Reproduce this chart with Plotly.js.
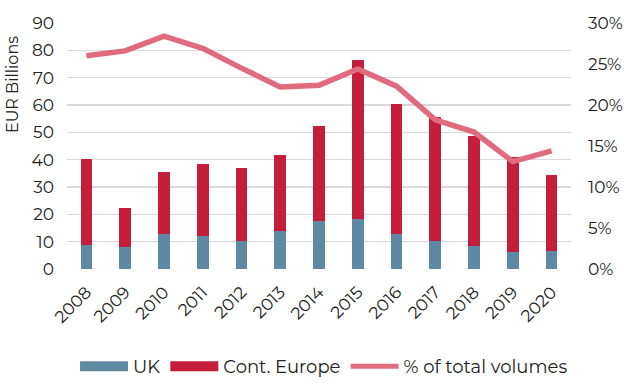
<!DOCTYPE html>
<html><head><meta charset="utf-8">
<script src="https://cdn.plot.ly/plotly-3.0.1.min.js"></script>
<style>body{margin:0;background:#fff}#c{width:640px;height:385px}</style>
</head><body><div id="c"></div>
<script>
const years = ['2008','2009','2010','2011','2012','2013','2014','2015','2016','2017','2018','2019','2020'];
const ukValues = [8.9, 7.9, 12.7, 12.0, 10.2, 13.8, 17.6, 18.3, 12.8, 10.1, 8.4, 6.2, 6.7];
const contEuropeValues = [31.3, 14.5, 22.9, 26.5, 26.8, 27.9, 34.8, 58.1, 47.5, 45.5, 40.4, 34.9, 27.6];
const pctTotalVolumes = [0.260, 0.266, 0.284, 0.269, 0.245, 0.222, 0.224, 0.244, 0.223, 0.182, 0.167, 0.131, 0.144];
const seriesNames = ['UK', 'Cont. Europe', '% of total volumes'];
const colors = ['#5f89a3', '#c41e3a', '#e06b7f'];

const font = {family: 'Montserrat, "Noto Sans", "DejaVu Sans", sans-serif', size: 17, color: '#222'};
const legendFont = {family: font.family, size: 18, color: '#222'};
const data = [
  {type: 'bar', name: seriesNames[0], x: years, y: ukValues, marker: {color: colors[0]}, showlegend: false},
  {type: 'bar', name: seriesNames[1], x: years, y: contEuropeValues, marker: {color: colors[1]}, showlegend: false},
  {type: 'scatter', mode: 'lines', name: seriesNames[2], x: years, y: pctTotalVolumes, yaxis: 'y2',
   line: {color: colors[2], width: 5.5}, showlegend: false},
  // legend entries (wide swatches)
  {type: 'scatter', mode: 'lines', name: seriesNames[0], x: [null], y: [null], line: {color: colors[0], width: 10}, legendrank: 1},
  {type: 'scatter', mode: 'lines', name: seriesNames[1], x: [null], y: [null], line: {color: colors[1], width: 10}, legendrank: 2},
  {type: 'scatter', mode: 'lines', name: seriesNames[2], x: [null], y: [null], yaxis: 'y2', line: {color: colors[2], width: 5}, legendrank: 3}
];
const layout = {
  width: 640, height: 385,
  margin: {l: 67, r: 69, t: 23, b: 116},
  barmode: 'stack', bargap: 0.7,
  font: font,
  paper_bgcolor: '#fff', plot_bgcolor: '#fff',
  showlegend: true,
  legend: {orientation: 'h', x: 0.51, xanchor: 'center', yref: 'container', y: 0.0, yanchor: 'bottom',
           font: legendFont, itemwidth: 48, traceorder: 'normal'},
  xaxis: {type: 'category', tickangle: -45, showgrid: false, zeroline: false, showline: false, ticks: '',
          tickfont: font, automargin: false, ticklabelstandoff: 9},
  yaxis: {range: [0, 90], dtick: 10, showgrid: true, gridcolor: '#d9d9d9', gridwidth: 1.5, zeroline: false, showline: false, ticks: '',
          tickfont: font, automargin: false, ticklabelstandoff: 12},
  yaxis2: {overlaying: 'y', side: 'right', range: [0, 0.30], dtick: 0.05, tickformat: '.0%', showgrid: false, zeroline: false,
           showline: false, ticks: '', tickfont: font, automargin: false, ticklabelstandoff: 16},
  annotations: [{text: 'EUR Billions', xref: 'paper', yref: 'paper', x: -0.108, xanchor: 'center', y: 0.75, yanchor: 'middle',
                 textangle: -90, showarrow: false, font: {family: font.family, size: 16, color: '#222'}}]
};
Plotly.newPlot('c', data, layout, {displayModeBar: false, staticPlot: true});
</script></body></html>
